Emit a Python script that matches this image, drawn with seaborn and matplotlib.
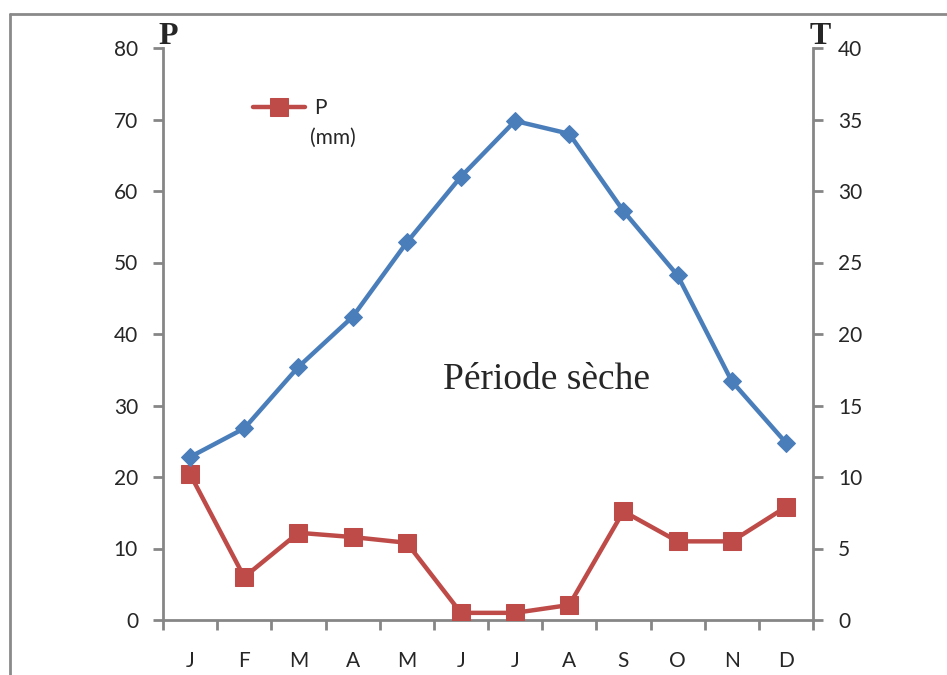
import matplotlib
matplotlib.use("Agg")
import matplotlib.pyplot as plt
import seaborn as sns
import pandas as pd
from matplotlib.lines import Line2D
from matplotlib.ticker import FixedLocator

months = ["J", "F", "M", "A", "M", "J", "J", "A", "S", "O", "N", "D"]
precip = [20.4, 6.0, 12.2, 11.6, 10.8, 1.0, 1.0, 2.1, 15.2, 11.0, 11.0, 15.8]
temp = [11.4, 13.4, 17.7, 21.2, 26.4, 31.0, 34.9, 34.0, 28.6, 24.1, 16.7, 12.4]
p_ticks = [0, 10, 20, 30, 40, 50, 60, 70, 80]
t_ticks = [0, 5, 10, 15, 20, 25, 30, 35, 40]

sns.set_style("white")
plt.rcParams["font.family"] = ["Lato", "DejaVu Sans"]

df = pd.DataFrame({"idx": range(len(months)), "P": precip, "T": temp})

fig = plt.figure(figsize=(9.47, 6.75), dpi=100)
ax = fig.add_axes([163/947, 1-620/675, (813-163)/947, (620-48)/675])
ax2 = ax.twinx()

red = "#BE4B48"
blue = "#4A7EBB"
grey = "#868686"

sns.lineplot(data=df, x="idx", y="P", ax=ax, color=red, lw=3.2, marker="s",
             markersize=13, markeredgecolor=red, label="P", zorder=3)
sns.lineplot(data=df, x="idx", y="T", ax=ax2, color=blue, lw=3.2, marker="D",
             markersize=9.5, markeredgecolor=blue, legend=False, zorder=3)

ax.set_xlim(-0.5, 11.5)
ax.set_ylim(0, 80)
ax2.set_ylim(0, 40)
ax.set_xlabel("")
ax.set_ylabel("")
ax2.set_ylabel("")

ax.set_xticks(range(12))
ax.set_xticklabels(months)
ax.xaxis.set_minor_locator(FixedLocator([i - 0.5 for i in range(13)]))
ax.tick_params(axis="x", which="major", length=0, pad=22, labelsize=15)
ax.tick_params(axis="x", which="minor", length=7, width=2, color=grey, direction="out", bottom=True)
ax.set_yticks(p_ticks)
ax.tick_params(axis="y", length=7, width=2, color=grey, direction="out", left=True, pad=11, labelsize=15)
ax2.set_yticks(t_ticks)
ax2.tick_params(axis="y", length=7, width=2, color=grey, direction="out", right=True, pad=11, labelsize=15)

for a in (ax, ax2):
    for s in a.spines.values():
        s.set_visible(False)
ax.spines["left"].set_visible(True)
ax.spines["bottom"].set_visible(True)
ax2.spines["right"].set_visible(True)
for s in (ax.spines["left"], ax.spines["bottom"], ax2.spines["right"]):
    s.set_color(grey)
    s.set_linewidth(2)

leg = ax.legend(loc="upper left", bbox_to_anchor=(0.11, 0.945), frameon=False,
                fontsize=15, handlelength=2.5, handletextpad=0.4)
ax.text(0.226, 0.843, "(mm)", transform=ax.transAxes, fontsize=15, va="center", ha="left")

ax.text(0.59, 0.42, "Période sèche", transform=ax.transAxes, fontsize=27,
        family=["Liberation Serif", "DejaVu Serif"], ha="center", va="center")

fig.text(168/947, 1-36/675, "P", fontsize=23, fontweight="bold",
         family=["Liberation Serif", "DejaVu Serif"], ha="center", va="center")
fig.text(820/947, 1-36/675, "T", fontsize=23, fontweight="bold",
         family=["Liberation Serif", "DejaVu Serif"], ha="center", va="center")

fig.add_artist(Line2D([10/947, 10/947], [0, 1-14/675], transform=fig.transFigure, color="#8A8A8A", lw=2))
fig.add_artist(Line2D([10/947, 1], [1-14/675, 1-14/675], transform=fig.transFigure, color="#8A8A8A", lw=2))

fig.savefig("out.png", dpi=100)
